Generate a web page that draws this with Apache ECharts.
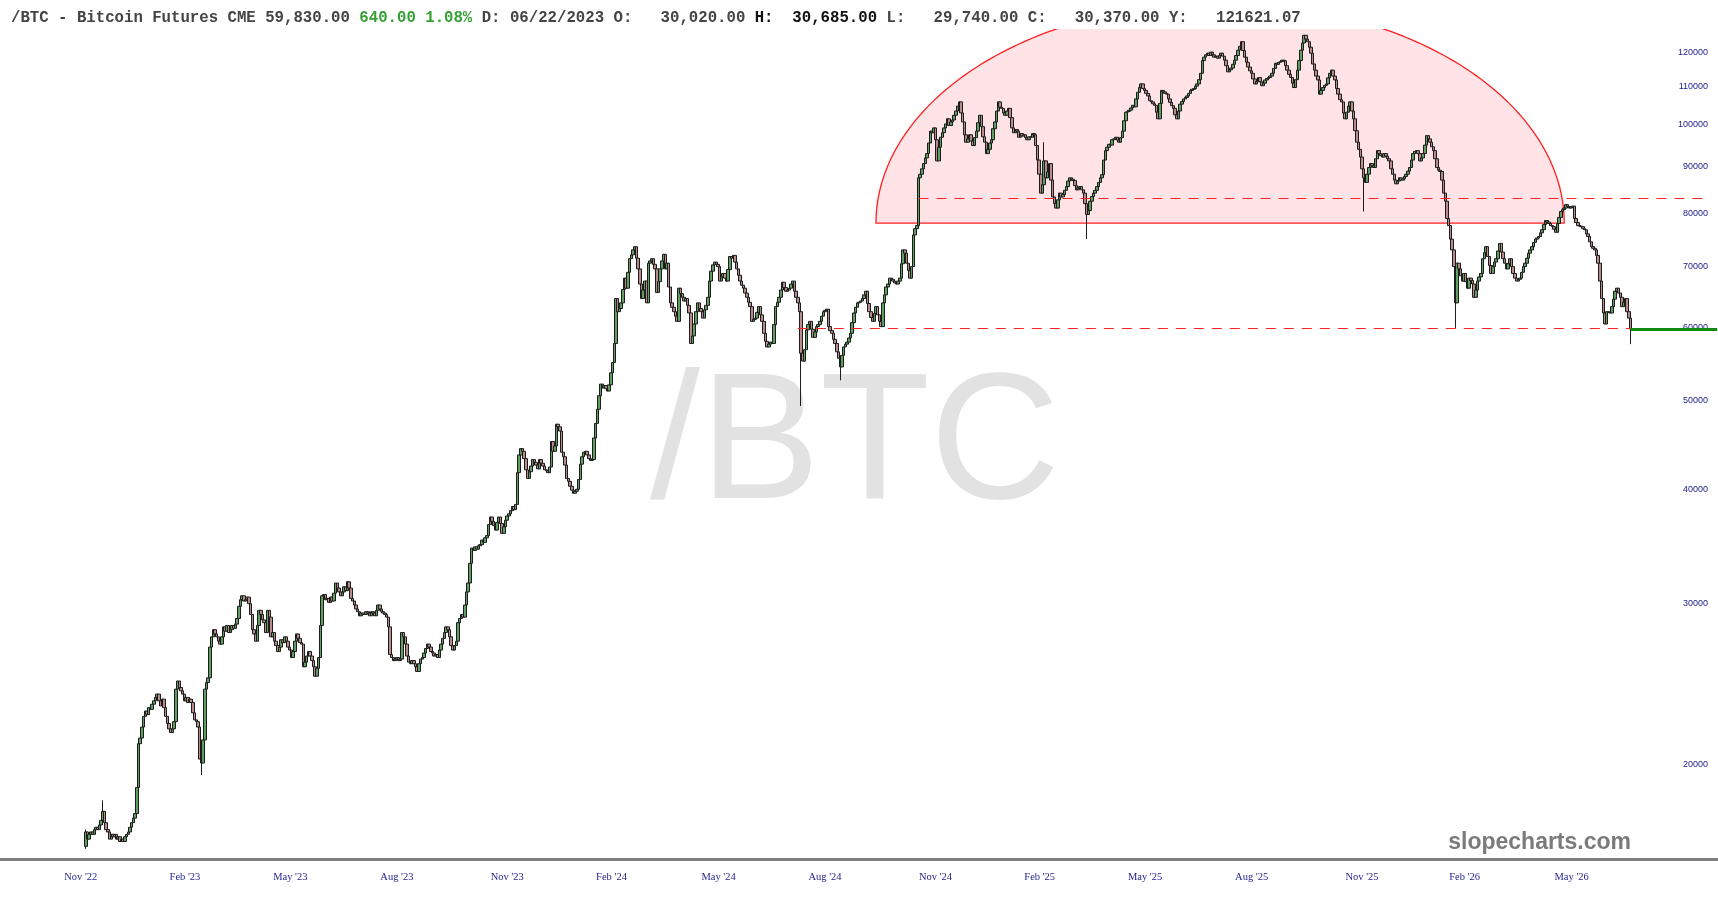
<!DOCTYPE html>
<html>
<head>
<meta charset="utf-8">
<title>/BTC - Bitcoin Futures CME</title>
<script src="https://cdn.jsdelivr.net/npm/echarts@6/dist/echarts.min.js"></script>
<style>
  html, body { margin: 0; padding: 0; background: #fff; }
  #chart { width: 1718px; height: 900px; }
</style>
</head>
<body>
<div id="chart"></div>
<script>
// daily closes, thousands of USD, one list per calendar year
const close2022 = [16.9, 16.6, 16.8, 16.9, 16.8, 17.0, 17.1, 17.0, 17.2, 17.4,
  17.8, 17.3, 17.0, 16.9, 16.6, 16.8, 16.7, 16.8, 16.6, 16.7,
  16.5, 16.6, 16.5, 16.7];
const close2023 = [16.8, 16.9, 17.1, 17.3, 17.5, 17.7,
  18.9, 21.1, 21.4, 22.0, 22.6, 22.9, 22.7, 23.1, 23.0, 23.3,
  23.5, 23.7, 23.9, 23.5, 23.2, 23.6, 23.1, 22.6, 22.2, 21.9,
  21.7, 21.9, 22.3, 24.2, 24.7, 24.3, 24.1, 23.9, 23.5, 23.7,
  23.4, 23.6, 23.4, 22.8, 22.4, 22.3, 22.0, 20.3, 20.1, 21.3,
  24.2, 24.6, 24.9, 26.9, 27.6, 28.1, 27.8, 27.6, 27.3, 27.1,
  27.6, 28.3, 28.0, 28.4, 27.9, 28.1, 28.4, 28.2, 28.5, 28.9,
  29.8, 30.3, 30.6, 30.2, 30.3, 30.5, 30.0, 29.2, 28.1, 27.8,
  27.3, 28.4, 29.5, 29.2, 28.8, 28.6, 27.9, 29.5, 29.0, 27.6,
  27.9, 27.3, 27.0, 26.6, 26.9, 27.4, 27.2, 27.6, 27.3, 26.9,
  26.7, 26.2, 26.6, 27.3, 27.8, 27.5, 27.2, 27.1, 25.6, 25.9,
  26.3, 26.6, 26.3, 26.0, 25.6, 25.0, 25.5, 26.2, 28.4, 30.6,
  30.7, 30.3, 30.4, 30.1, 30.5, 30.2, 30.8, 31.6, 31.2, 30.9,
  30.6, 30.9, 31.3, 31.0, 31.7, 31.2, 30.4, 30.2, 29.9, 29.6,
  29.4, 29.1, 29.3, 29.2, 29.2, 29.4, 29.3, 29.1, 29.4, 29.3,
  29.1, 29.5, 29.9, 29.6, 29.4, 29.3, 29.2, 29.0, 28.3, 26.4,
  26.2, 26.0, 26.1, 26.2, 26.0, 26.1, 27.9, 27.6, 27.1, 26.3,
  25.9, 25.8, 26.0, 25.8, 25.6, 25.3, 25.8, 26.1, 26.2, 26.5,
  26.8, 27.1, 26.9, 26.6, 26.5, 26.3, 26.4, 26.2, 26.7, 27.1,
  27.5, 27.9, 28.3, 28.1, 27.6, 27.0, 26.7, 27.0, 27.3, 28.6,
  28.9, 29.2, 29.0, 29.9, 30.9, 31.6, 33.2, 34.5, 34.3, 34.6,
  34.4, 34.7, 34.8, 35.2, 35.0, 35.4, 35.6, 36.6, 37.3, 36.9,
  36.5, 36.1, 36.8, 37.3, 36.7, 35.8, 36.4, 37.0, 37.4, 37.6,
  37.9, 38.3, 38.0, 38.5, 41.7, 43.6, 44.3, 44.0, 43.2, 42.0,
  41.1, 41.8, 42.4, 43.1, 42.8, 42.5, 42.1, 43.1, 42.7, 42.4,
  42.0, 41.9, 41.7, 42.3];
const close2024 = [45.1, 44.0, 44.6, 47.1, 46.8, 46.3,
  43.9, 43.4, 42.5, 41.1, 40.8, 40.3, 39.9, 39.6, 39.8, 40.0,
  41.0, 42.6, 43.4, 43.9, 44.0, 43.6, 43.2, 43.0, 43.1, 45.5,
  47.2, 48.9, 50.6, 52.1, 51.6, 51.9, 51.5, 51.2, 52.0, 53.6,
  55.0, 57.7, 64.6, 62.5, 63.0, 63.9, 66.1, 68.0, 66.3, 69.0,
  71.4, 72.1, 73.0, 73.6, 71.5, 69.6, 67.0, 64.6, 66.0, 67.5,
  63.9, 70.6, 71.0, 71.4, 70.4, 69.6, 65.6, 67.4, 69.6, 71.0,
  72.2, 69.6, 70.6, 66.5, 63.9, 63.2, 62.5, 61.8, 61.0, 66.3,
  65.4, 64.8, 64.2, 64.6, 63.5, 62.3, 57.7, 58.8, 60.6, 62.5,
  63.9, 63.0, 62.5, 61.5, 62.8, 63.5, 64.8, 67.5, 69.2, 70.3,
  70.8, 70.4, 70.0, 67.5, 68.2, 68.8, 68.0, 67.5, 69.5, 71.8,
  71.5, 72.0, 70.8, 69.6, 68.5, 67.5, 66.8, 66.3, 65.5, 64.8,
  64.0, 63.3, 61.0, 61.3, 61.5, 62.4, 63.3, 62.0, 61.0, 59.2,
  58.0, 57.2, 57.6, 57.9, 57.7, 60.5, 63.3, 64.0, 64.8, 66.0,
  67.3, 66.4, 65.8, 66.0, 66.3, 67.0, 67.5, 65.8, 64.8, 63.9,
  62.5, 56.3, 55.2, 56.8, 59.7, 60.5, 61.0, 59.8, 58.6, 59.4,
  60.2, 60.5, 61.0, 61.8, 62.5, 62.7, 62.9, 60.2, 59.6, 59.2,
  58.3, 57.7, 56.5, 55.6, 54.4, 56.0, 57.2, 57.6, 57.9, 58.5,
  59.2, 60.8, 62.3, 63.2, 63.9, 64.0, 64.2, 64.6, 65.2, 65.8,
  63.8, 62.5, 61.6, 61.0, 62.2, 63.3, 62.0, 61.0, 60.2, 63.9,
  65.2, 66.5, 67.0, 68.0, 67.8, 67.5, 67.2, 67.0, 67.5, 68.0,
  70.5, 73.0, 72.4, 70.6, 69.3, 68.0, 70.0, 75.8, 77.0, 77.6,
  87.5, 88.3, 89.5, 90.7, 92.0, 93.0, 95.5, 98.4, 98.0, 99.2,
  96.3, 91.3, 94.5, 96.9, 98.0, 99.2, 100.2, 101.5, 99.8, 100.7,
  101.2, 102.4, 103.5, 104.8, 105.9, 103.0, 100.7, 97.5, 95.7, 96.5,
  97.5, 96.0, 94.9, 96.8, 98.4, 100.5];
const close2025 = [102.4, 99.5, 97.0, 95.7,
  93.0, 94.0, 95.5, 96.3, 99.0, 100.7, 103.5, 105.9, 104.5, 104.2,
  103.0, 102.4, 103.5, 104.2, 101.8, 99.2, 98.0, 98.8, 98.4, 96.9,
  97.8, 97.2, 97.5, 96.8, 96.3, 97.0, 96.9, 97.8, 97.5, 94.9,
  91.5, 88.3, 84.2, 86.0, 91.3, 87.5, 88.8, 90.7, 87.0, 83.4,
  82.0, 81.1, 82.8, 84.2, 83.4, 83.9, 84.8, 85.6, 86.8, 87.5,
  87.2, 86.9, 85.8, 84.9, 85.3, 85.6, 84.9, 84.2, 82.0, 79.8,
  80.6, 82.5, 83.5, 84.2, 84.8, 85.6, 86.5, 87.5, 88.2, 91.5,
  93.7, 94.5, 95.2, 95.0, 96.3, 96.5, 96.9, 96.2, 95.7, 96.8,
  98.4, 101.0, 103.2, 103.4, 103.7, 104.3, 105.0, 104.6, 106.7, 108.5,
  109.8, 110.8, 109.5, 109.0, 108.2, 107.5, 106.2, 105.9, 105.4, 105.0,
  103.2, 101.5, 105.5, 109.0, 108.6, 108.2, 108.0, 106.7, 105.8, 104.9,
  104.2, 102.5, 101.5, 103.5, 105.3, 106.0, 106.7, 107.1, 107.5, 108.2,
  109.0, 109.3, 109.5, 110.2, 110.8, 112.0, 113.8, 117.5, 118.5, 119.2,
  119.7, 119.0, 120.0, 119.2, 118.5, 118.8, 118.2, 119.0, 119.7, 118.8,
  117.6, 116.0, 114.2, 114.8, 115.3, 116.4, 117.6, 119.0, 120.6, 121.8,
  123.2, 120.5, 118.5, 117.0, 115.6, 114.5, 113.8, 112.2, 110.8, 111.5,
  112.6, 111.4, 110.3, 111.0, 111.9, 112.3, 112.6, 113.0, 113.8, 115.2,
  116.7, 116.4, 117.0, 117.2, 117.6, 117.4, 116.0, 114.7, 113.5, 112.6,
  111.0, 109.8, 112.0, 114.7, 117.5, 120.6, 122.8, 125.2, 124.0, 123.2,
  121.5, 119.7, 116.5, 114.7, 113.0, 111.9, 108.0, 109.0, 109.8, 110.4,
  110.8, 112.5, 113.8, 114.7, 113.0, 111.9, 109.5, 108.0, 106.5, 105.9,
  103.0, 101.5, 103.2, 104.8, 105.9, 103.5, 101.5, 98.5, 95.7, 94.0,
  92.2, 89.5, 87.5, 86.5, 88.3, 89.8, 90.7, 90.2, 89.8, 91.8,
  93.7, 93.0, 92.5, 92.2, 93.0, 92.4, 91.8, 91.3, 89.5, 88.3,
  87.0, 86.2, 86.8, 87.5, 87.0, 87.3, 87.8];
const close2026 = [88.3, 89.0, 89.8,
  91.5, 93.0, 93.5, 93.7, 93.0, 91.3, 92.0, 93.0, 95.0, 97.3,
  96.5, 95.7, 94.6, 93.7, 91.8, 89.8, 89.2, 88.9, 87.0, 84.2,
  82.5, 79.0, 77.6, 75.0, 73.0, 70.0, 63.9, 70.6, 69.6, 68.4,
  67.5, 68.8, 67.4, 66.3, 68.0, 67.6, 67.0, 64.8, 66.0, 67.5,
  68.2, 68.8, 71.4, 72.5, 73.6, 71.8, 70.2, 68.8, 70.0, 70.8,
  71.4, 72.8, 74.2, 72.6, 71.4, 70.6, 69.6, 70.5, 71.4, 70.0,
  68.8, 68.0, 67.5, 67.8, 68.0, 69.0, 70.0, 70.6, 71.5, 72.4,
  73.0, 73.6, 74.4, 75.0, 75.2, 75.5, 76.2, 76.8, 77.8, 78.6,
  78.3, 78.0, 77.6, 77.4, 76.9, 76.3, 78.0, 79.2, 80.4, 80.8,
  81.1, 81.8, 81.4, 81.1, 81.3, 81.5, 79.0, 78.2, 77.6, 77.5,
  77.4, 77.0, 76.8, 76.0, 75.5, 74.5, 73.6, 73.3, 73.0, 72.0,
  70.6, 67.5, 64.6, 62.3, 60.6, 62.5, 62.4, 62.3, 63.3, 64.5,
  65.8, 66.3, 65.5, 64.8, 63.3, 64.0, 64.6, 62.5, 61.5, 59.83];
const firstOpen = 16.3;
// [bar, low, high] for bars whose shadows reach well past the body
const wicks = [[0, 16.2, 17.0], [10, 17.2, 18.3], [68, 19.5, 20.6], [421, 49.3, 62.5],
  [444, 52.6, 56.0], [564, 86.0, 95.7], [589, 75.0, 84.2], [752, 80.4, 89.5],
  [806, 60.0, 70.0], [909, 57.6, 61.5]];

// trading calendar
const axisStartDay = '2022-09-16';
const dataStartDay = '2022-11-28';
const rightPadBars = 51;
const holidays = ['2022-11-24', '2022-12-26', '2023-01-02', '2023-01-16', '2023-02-20', '2023-04-07',
  '2023-05-29', '2023-06-19', '2023-07-04', '2023-09-04', '2023-11-23', '2023-12-25',
  '2024-01-01', '2024-01-15', '2024-02-19', '2024-03-29', '2024-05-27', '2024-06-19',
  '2024-07-04', '2024-09-02', '2024-11-28', '2024-12-25', '2025-01-01', '2025-01-20',
  '2025-02-17', '2025-04-18', '2025-05-26', '2025-06-19', '2025-07-04', '2025-09-01',
  '2025-11-27', '2025-12-25', '2026-01-01', '2026-01-19', '2026-02-16', '2026-04-03',
  '2026-05-25', '2026-06-19', '2026-07-03', '2026-09-07'];
const labelMonths = [1, 4, 7, 10];
const monthNames = ['Jan', 'Feb', 'Mar', 'Apr', 'May', 'Jun', 'Jul', 'Aug', 'Sep', 'Oct', 'Nov', 'Dec'];
const yTicks = [20000, 30000, 40000, 50000, 60000, 70000, 80000, 90000, 100000, 110000, 120000];

// drawings: [fromBar, toBar, price]
const levels = [[490, 955, 83200], [419, 909, 60000]];
const dome = [465, 870, 78100, 136000]; // fromBar, toBar, base, crown
const lastPrice = 59830;

const closes = [].concat(close2022, close2023, close2024, close2025, close2026);
const holidaySet = new Set(holidays);
const days = [];
let dataStart = -1;
{
  const d = new Date(axisStartDay + 'T00:00:00Z');
  while (dataStart < 0 || days.length < dataStart + closes.length + rightPadBars) {
    const wd = d.getUTCDay();
    const s = d.toISOString().slice(0, 10);
    if (wd !== 0 && wd !== 6 && !holidaySet.has(s)) {
      if (s === dataStartDay) dataStart = days.length;
      days.push(s);
    }
    d.setUTCDate(d.getUTCDate() + 1);
  }
}
const lastBar = dataStart + closes.length - 1;

// first trading day of Feb / May / Aug / Nov, only where there is price history
const labelIdx = new Set();
days.forEach((s, i) => {
  if (i > lastBar) return;
  const m = +s.slice(5, 7) - 1;
  if (labelMonths.includes(m) && (i === 0 || days[i - 1].slice(5, 7) !== s.slice(5, 7))) labelIdx.add(i);
});

const wickMap = {};
wicks.forEach(w => { wickMap[w[0]] = w; });
const candles = days.map(() => '-');
closes.forEach((c, j) => {
  const o = j === 0 ? firstOpen : closes[j - 1];
  let lo = Math.min(o, c), hi = Math.max(o, c);
  if (wickMap[j]) { lo = Math.min(lo, wickMap[j][1]); hi = Math.max(hi, wickMap[j][2]); }
  candles[dataStart + j] = [o * 1000, c * 1000, lo * 1000, hi * 1000];
});

const dash = { color: '#ff2424', width: 1.2, type: [10, 8] };
const chart = echarts.init(document.getElementById('chart'));

const option = {
  animation: false,
  title: {
    left: 6,
    top: 5,
    text: '{t|/BTC - Bitcoin Futures CME 59,830.00 }{g|640.00 1.08%}{t| D: 06/22/2023 O:   30,020.00 }{b|H:  30,685.00}{t| L:   29,740.00 C:   30,370.00 Y:   121621.07}',
    textStyle: {
      rich: {
        t: { fontFamily: 'Liberation Mono', fontSize: 15.7, color: '#444' },
        g: { fontFamily: 'Liberation Mono', fontSize: 15.7, color: '#35a035' },
        b: { fontFamily: 'Liberation Mono', fontSize: 15.7, color: '#111', fontWeight: 'bold' }
      }
    }
  },
  grid: { left: 0, right: 0, top: 29, bottom: 41 },
  xAxis: {
    type: 'category',
    data: days,
    boundaryGap: true,
    axisLine: { lineStyle: { color: '#7f7f7f', width: 3 } },
    axisTick: { show: false },
    splitLine: { show: false },
    axisLabel: {
      interval: (i) => labelIdx.has(i),
      formatter: (v) => monthNames[+v.slice(5, 7) - 1] + " '" + v.slice(2, 4),
      align: 'left',
      padding: [0, 0, 0, 9],
      margin: 13,
      fontFamily: 'Liberation Serif',
      fontSize: 10.5,
      color: '#1f1f8c'
    }
  },
  yAxis: {
    type: 'log',
    position: 'right',
    min: 15790,
    max: 127200,
    axisLine: { show: false },
    axisTick: { show: false },
    splitLine: { show: false },
    axisLabel: {
      inside: true,
      margin: 10,
      customValues: yTicks,
      formatter: (v) => String(Math.round(v)),
      fontFamily: 'Liberation Sans',
      fontSize: 9,
      color: '#20208a'
    }
  },
  graphic: [
    {
      type: 'text', x: 650, y: 448, z: 0, silent: true,
      style: { text: '/BTC', font: '180px "Liberation Sans"', fill: '#e2e2e2', align: 'left', verticalAlign: 'middle' }
    },
    {
      type: 'text', x: 1631, y: 843, z: 10, silent: true,
      style: { text: 'slopecharts.com', font: 'bold 23px "Liberation Sans"', fill: '#7b7b7b', align: 'right', verticalAlign: 'middle' }
    }
  ],
  series: [
    {
      type: 'custom',
      z: 1,
      clip: true,
      silent: true,
      encode: { x: [0, 1], y: [2, 3] },
      data: [[dataStart + dome[0], dataStart + dome[1], dome[2], dome[3]]],
      renderItem: (params, api) => {
        const a = api.coord([api.value(0), api.value(2)]);
        const b = api.coord([api.value(1), api.value(2)]);
        const top = api.coord([api.value(0), api.value(3)]);
        const cx = (a[0] + b[0]) / 2, rx = (b[0] - a[0]) / 2, ry = a[1] - top[1];
        const pts = [];
        for (let k = 0; k <= 180; k++) {
          const t = Math.PI * k / 180;
          pts.push([cx - rx * Math.cos(t), a[1] - ry * Math.sin(t)]);
        }
        return {
          type: 'polygon',
          shape: { points: pts },
          style: { fill: '#ffe3e6', stroke: '#ff1f1f', lineWidth: 1.3 }
        };
      }
    },
    {
      type: 'candlestick',
      z: 3,
      large: false,
      progressive: 0,
      barWidth: 3,
      data: candles,
      itemStyle: {
        color: '#5f9f5f',
        color0: '#b98b8b',
        borderColor: '#1c1c1c',
        borderColor0: '#1c1c1c',
        borderWidth: 1
      },
      emphasis: { disabled: true }
    },
    {
      // trend lines drawn on top of the candles
      type: 'line',
      z: 6,
      data: [],
      silent: true,
      markLine: {
        silent: true,
        symbol: ['none', 'none'],
        label: { show: false },
        data: [
          [{ coord: [days[dataStart + levels[0][0]], levels[0][2]], lineStyle: dash },
           { coord: [days[dataStart + levels[0][1]], levels[0][2]] }],
          [{ coord: [days[dataStart + levels[1][0]], levels[1][2]], lineStyle: dash },
           { coord: [days[dataStart + levels[1][1]], levels[1][2]] }],
          [{ coord: [days[lastBar], lastPrice], lineStyle: { color: '#118a11', width: 3, type: 'solid' } },
           { coord: [days[days.length - 1], lastPrice] }]
        ]
      }
    }
  ]
};

chart.setOption(option);
</script>
</body>
</html>
